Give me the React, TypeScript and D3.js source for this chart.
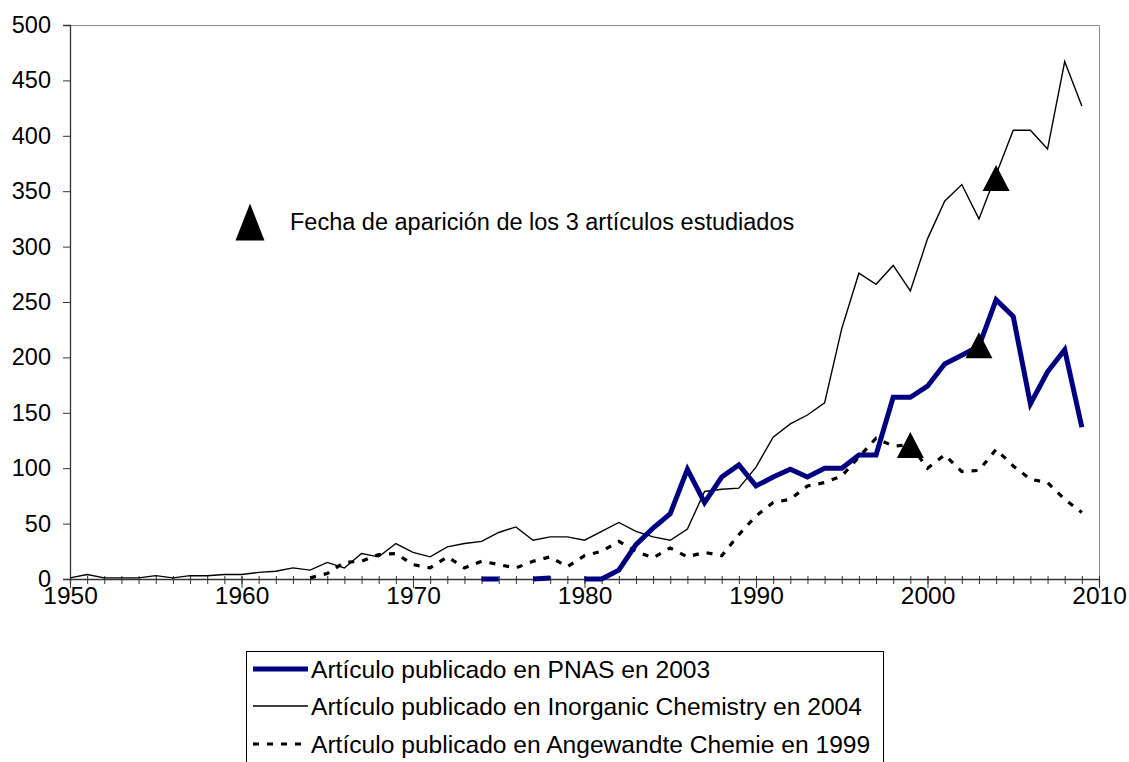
import * as d3 from 'd3'
import { useEffect, useRef } from 'react'

// years on the x axis (one point per year)
const years = d3.range(1950, 2010)

// citations per year (null = no value)
const pnas: (number | null)[] = [
  null, null, null, null, null, null, null, null, null, null,
  null, null, null, null, null, null, null, null, null, null,
  null, null, null, null, 0, 0, null, 0, 1, null,
  0, 0, 8, 31, 46, 59, 99, 69, 92, 103,
  84, 92, 99, 92, 100, 100, 112, 112, 164, 164,
  174, 194, 202, 210, 252, 237, 158, 187, 207, 137,
]
const inorganic: (number | null)[] = [
  1, 4, 1, 1, 1, 3, 1, 3, 3, 4,
  4, 6, 7, 10, 8, 15, 10, 23, 20, 32,
  24, 20, 29, 32, 34, 42, 47, 35, 38, 38,
  35, 43, 51, 43, 38, 35, 45, 79, 81, 82,
  101, 128, 140, 148, 159, 226, 276, 266, 283, 260,
  307, 341, 356, 325, 365, 405, 405, 388, 467, 427,
]
const angewandte: (number | null)[] = [
  null, null, null, null, null, null, null, null, null, null,
  null, null, null, null, 1, 5, 15, 16, 22, 23,
  13, 10, 20, 10, 16, 13, 10, 16, 20, 11,
  21, 25, 34, 25, 19, 28, 20, 24, 21, 40,
  57, 69, 72, 84, 87, 93, 110, 127, 120, 121,
  100, 112, 97, 98, 117, 102, 90, 87, 72, 60,
]

// publication dates of the three articles (triangle markers)
const markerYears = [1999, 2003, 2004]
const markerValues = [121, 211, 362]

const yTicks = [0, 50, 100, 150, 200, 250, 300, 350, 400, 450, 500]
const xLabelTicks = [1950, 1960, 1970, 1980, 1990, 2000, 2010]

const seriesNames = [
  'Artículo publicado en PNAS en 2003',
  'Artículo publicado en Inorganic Chemistry en 2004',
  'Artículo publicado en Angewandte Chemie en 1999',
]
const noteText = 'Fecha de aparición de los 3 artículos estudiados'

const FONT = '"Liberation Sans", Arial, sans-serif'

// triangle with its box centred on the point (like the Excel markers)
const triangle = (w: number, h: number) => ({
  draw(ctx: any) {
    ctx.moveTo(0, -h / 2)
    ctx.lineTo(w / 2, h / 2)
    ctx.lineTo(-w / 2, h / 2)
    ctx.closePath()
  },
})

export default function App() {
  const ref = useRef<SVGSVGElement>(null)

  useEffect(() => {
    drawChart(ref.current)
  }, [])

  return (
    <svg
      ref={ref}
      width={1129}
      height={762}
      style={{ position: 'absolute', left: 0, top: 0, background: '#fff' }}
    />
  )
}

const drawChart = (node: SVGSVGElement | null) => {
  if (!node) return
  const svg = d3.select(node)
  svg.selectAll('*').remove()

  const MARGIN = { TOP: 25, RIGHT: 30, BOTTOM: 183, LEFT: 70 }
  const WIDTH = 1129
  const HEIGHT = 762

  const x = d3.scaleLinear()
    .domain([1950, 2010])
    .range([MARGIN.LEFT, WIDTH - MARGIN.RIGHT])

  const y = d3.scaleLinear()
    .domain([0, 500])
    .range([HEIGHT - MARGIN.BOTTOM, MARGIN.TOP])

  // plot area frame (grey top & right)
  svg.append('path')
    .attr('d', `M${x(1950)},${y(500) + 0.5}H${x(2010) + 0.5}V${y(0)}`)
    .attr('fill', 'none')
    .attr('stroke', '#8a8a8a')
    .attr('stroke-width', 1)

  // y axis
  const yAxis = svg.append('g')
    .attr('transform', `translate(${x(1950)},0)`)
    .call(d3.axisLeft(y).tickValues(yTicks).tickSize(7).tickPadding(12))
  yAxis.select('.domain').attr('stroke', '#333').attr('stroke-width', 1.3)
  yAxis.selectAll('.tick line').attr('stroke', '#333')
  yAxis.selectAll('text')
    .attr('font-family', FONT)
    .attr('font-size', 23.5)
    .attr('fill', '#000')

  // x axis: minor ticks every year crossing the axis
  const xMinor = svg.append('g')
    .attr('transform', `translate(0,${y(0)})`)
    .call(d3.axisBottom(x).tickValues(d3.range(1950, 2011)).tickSize(5).tickFormat(() => ''))
  xMinor.select('.domain').attr('stroke', '#333').attr('stroke-width', 1.3)
  xMinor.selectAll('.tick line').attr('y1', -3).attr('stroke', '#333')

  // x axis: decade labels with longer ticks
  const xMajor = svg.append('g')
    .attr('transform', `translate(0,${y(0)})`)
    .call(d3.axisBottom(x).tickValues(xLabelTicks).tickSize(9).tickFormat(d3.format('d')))
  xMajor.select('.domain').remove()
  xMajor.selectAll('.tick line').attr('y1', -3).attr('stroke', '#333')
  xMajor.selectAll('text')
    .attr('y', 16)
    .attr('dy', '0.35em')
    .attr('font-family', FONT)
    .attr('font-size', 24.5)
    .attr('fill', '#000')

  const line = d3.line<number | null>()
    .defined(d => d !== null)
    .x((d, i) => x(years[i]))
    .y(d => y(d as number))

  const styles = [
    { data: pnas, stroke: '#000080', width: 5, dash: null },
    { data: inorganic, stroke: '#000', width: 1.4, dash: null },
    { data: angewandte, stroke: '#000', width: 3.2, dash: '6,8' },
  ]

  // draw thin line under, others on top
  const order = [1, 2, 0]
  order.forEach(k => {
    const s = styles[k]
    svg.append('path')
      .datum(s.data)
      .attr('d', line)
      .attr('fill', 'none')
      .attr('stroke', s.stroke)
      .attr('stroke-width', s.width)
      .attr('stroke-linejoin', 'miter')
      .attr('stroke-dasharray', s.dash)
  })

  // triangle markers
  const sym = d3.symbol().type(triangle(27, 26) as any)
  svg.selectAll('.marker')
    .data(markerYears)
    .join('path')
    .attr('class', 'marker')
    .attr('transform', (d, i) => `translate(${x(d)},${y(markerValues[i])})`)
    .attr('d', sym as any)
    .attr('fill', '#000')

  // note inside the plot
  svg.append('path')
    .attr('transform', 'translate(250,222)')
    .attr('d', d3.symbol().type(triangle(29, 37) as any)() as any)
    .attr('fill', '#000')
  svg.append('text')
    .attr('x', 290)
    .attr('y', 222)
    .attr('dy', '0.35em')
    .attr('font-family', FONT)
    .attr('font-size', 23.5)
    .text(noteText)

  // legend (box runs past the bottom edge, as in the picture)
  const legend = svg.append('g')
  legend.append('rect')
    .attr('x', 246.5)
    .attr('y', 651.5)
    .attr('width', 637)
    .attr('height', 140)
    .attr('fill', '#fff')
    .attr('stroke', '#000')
    .attr('stroke-width', 1)

  const rowY = [669, 706, 744]
  seriesNames.forEach((name, i) => {
    const s = styles[i]
    legend.append('line')
      .attr('x1', 253)
      .attr('x2', 308)
      .attr('y1', rowY[i])
      .attr('y2', rowY[i])
      .attr('stroke', s.stroke)
      .attr('stroke-width', s.width)
      .attr('stroke-dasharray', s.dash)
    legend.append('text')
      .attr('x', 311)
      .attr('y', rowY[i])
      .attr('dy', '0.35em')
      .attr('font-family', FONT)
      .attr('font-size', 24.6)
      .text(name)
  })
}
